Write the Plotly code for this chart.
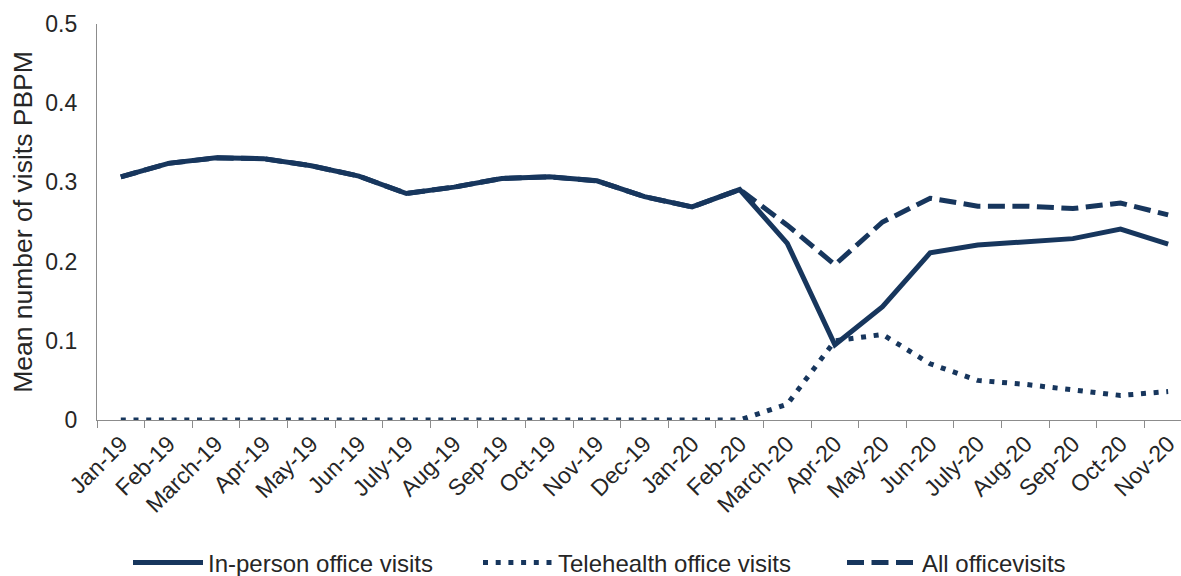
import plotly.graph_objects as go

months = ["Jan-19", "Feb-19", "March-19", "Apr-19", "May-19", "Jun-19", "July-19",
          "Aug-19", "Sep-19", "Oct-19", "Nov-19", "Dec-19", "Jan-20", "Feb-20",
          "March-20", "Apr-20", "May-20", "Jun-20", "July-20", "Aug-20", "Sep-20",
          "Oct-20", "Nov-20"]

in_person = [0.307, 0.324, 0.331, 0.330, 0.321, 0.308, 0.286, 0.294, 0.305, 0.307,
             0.302, 0.282, 0.269, 0.291, 0.223, 0.095, 0.143, 0.211, 0.221, 0.225,
             0.229, 0.241, 0.222]
telehealth = [0.0, 0.0, 0.0, 0.0, 0.0, 0.0, 0.0, 0.0, 0.0, 0.0, 0.0, 0.0, 0.0, 0.0,
              0.020, 0.100, 0.108, 0.071, 0.050, 0.045, 0.038, 0.031, 0.036]
all_office = [0.307, 0.324, 0.331, 0.330, 0.321, 0.308, 0.286, 0.294, 0.305, 0.307,
              0.302, 0.282, 0.269, 0.291, 0.246, 0.196, 0.250, 0.280, 0.270, 0.270,
              0.267, 0.274, 0.259]

y_ticks = [0, 0.1, 0.2, 0.3, 0.4, 0.5]
y_tick_text = ["0", "0.1", "0.2", "0.3", "0.4", "0.5"]

NAVY = "#17365d"
AXIS = "#8c8c8c"
TEXT = "#262626"
FONT = "Arial, Liberation Sans, sans-serif"

fig = go.Figure()
fig.add_trace(go.Scatter(x=months, y=in_person, mode="lines",
                         name="In-person office visits", legend="legend",
                         line=dict(color=NAVY, width=5)))
fig.add_trace(go.Scatter(x=months, y=telehealth, mode="lines",
                         name="Telehealth office visits", legend="legend2",
                         line=dict(color=NAVY, width=5, dash="5px,7.7px")))
fig.add_trace(go.Scatter(x=months, y=all_office, mode="lines",
                         name="All officevisits", legend="legend3",
                         line=dict(color=NAVY, width=5, dash="17px,7.5px")))


def legend_box(left_px):
    # one legend per series, placed in pixel positions along the bottom row
    return dict(orientation="h", xref="container", yref="container",
                x=left_px / 1181, xanchor="left", y=(576 - 563) / 576, yanchor="middle",
                itemwidth=70, font=dict(size=24, color=TEXT), bgcolor="rgba(0,0,0,0)")


fig.update_layout(
    width=1181, height=576,
    margin=dict(l=97, r=0, t=24, b=156, autoexpand=False),
    paper_bgcolor="white", plot_bgcolor="white",
    font=dict(family=FONT, color=TEXT, size=23),
    showlegend=True,
    legend=legend_box(128),
    legend2=legend_box(478),
    legend3=legend_box(842),
)

fig.update_xaxes(
    type="category", categoryorder="array", categoryarray=months,
    range=[-0.5, 22.27], automargin=False,
    showline=True, linecolor=AXIS, linewidth=1.3,
    ticks="outside", tickson="boundaries", ticklen=7, tickcolor=AXIS, tickwidth=1.3,
    tickangle=-45, tickfont=dict(size=23, color=TEXT),
    showgrid=False, zeroline=False,
)
fig.update_yaxes(
    range=[0, 0.5], tickvals=y_ticks, ticktext=y_tick_text, automargin=False,
    showline=True, linecolor=AXIS, linewidth=1.3,
    ticks="", ticklabelstandoff=14, tickfont=dict(size=23, color=TEXT),
    showgrid=False, zeroline=False,
    title=dict(text="Mean number of visits PBPM", font=dict(size=26.5, color=TEXT), standoff=4),
)

fig.write_html("out.html")
